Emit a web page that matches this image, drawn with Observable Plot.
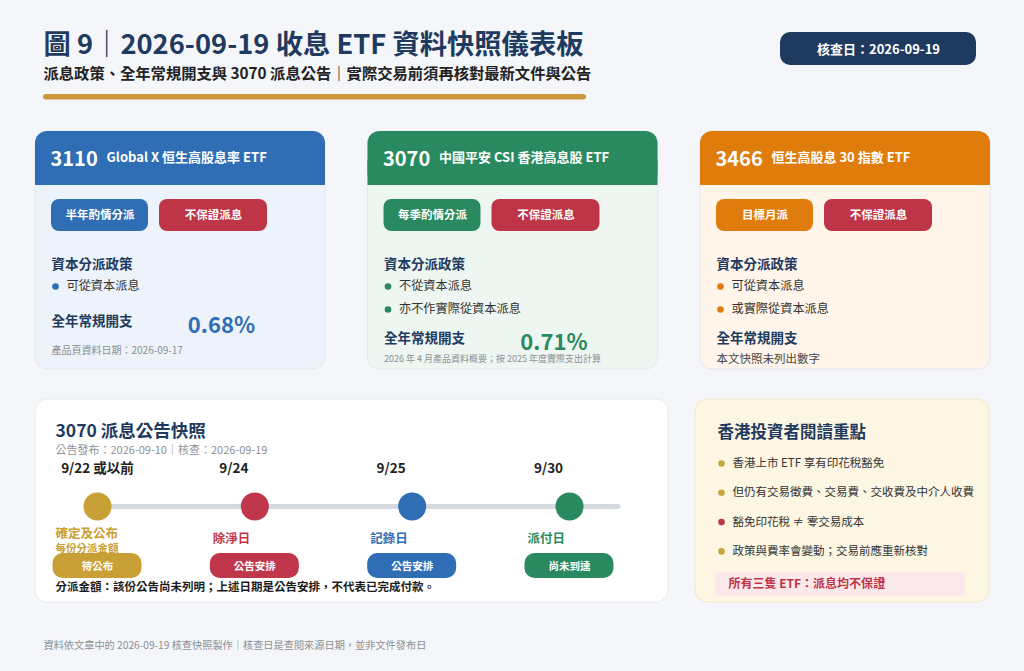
<!DOCTYPE html>
<html><head><meta charset="utf-8">
<script src="https://cdn.jsdelivr.net/npm/d3@7"></script>
<script src="https://cdn.jsdelivr.net/npm/@observablehq/plot@0.6"></script>
<style>
html,body{margin:0;padding:0;background:#f4f6f9;}
#chart svg{display:block;}
g[aria-label="card-shadow"] rect{filter:drop-shadow(0 3px 5px rgba(40,60,90,0.14));}
</style></head><body><div id="chart"></div>
<script>
// ---------- DATA ----------
const titleText = "圖 9｜2026-09-19 收息 ETF 資料快照儀表板";
const subtitleText = "派息政策、全年常規開支與 3070 派息公告｜實際交易前須再核對最新文件與公告";
const checkLabel = "核查日：2026-09-19";
const footerText = "資料依文章中的 2026-09-19 核查快照製作｜核查日是查閱來源日期，並非文件發布日";

const fundCodes = ["3110", "3070", "3466"];
const fundNames = ["Global X 恒生高股息率 ETF", "中國平安 CSI 香港高息股 ETF", "恒生高股息 30 指數 ETF"];
const payoutTags = ["半年酌情分派", "每季酌情分派", "目標月派"];
const guaranteeTags = ["不保證派息", "不保證派息", "不保證派息"];
const policyHeading = "資本分派政策";
const capitalPolicies = [["可從資本派息"], ["不從資本派息", "亦不作實際從資本派息"], ["可從資本派息", "或實際從資本派息"]];
const expenseHeading = "全年常規開支";
const expenseRatios = [0.68, 0.71, null];
const expenseNotes = ["產品頁資料日期：2026-09-17", "2026 年 4 月產品資料概要；按 2025 年度實際支出計算", "本文快照未列出數字"];

const timelineTitle = "3070 派息公告快照";
const timelineSub = "公告發布：2026-09-10｜核查：2026-09-19";
const timelineDates = ["9/22 或以前", "9/24", "9/25", "9/30"];
const timelineEvents = [["確定及公布", "每份分派金額"], ["除淨日"], ["記錄日"], ["派付日"]];
const timelineStatus = ["待公布", "公告安排", "公告安排", "尚未到達"];
const timelineNote = "分派金額：該份公告尚未列明；上述日期是公告安排，不代表已完成付款。";

const notesTitle = "香港投資者閱讀重點";
const notesItems = ["香港上市 ETF 享有印花稅豁免", "但仍有交易徵費、交易費、交收費及中介人收費", "豁免印花稅 ≠ 零交易成本", "政策與費率會變動；交易前應重新核對"];
const notesWarn = [false, false, true, false];
const notesBanner = "所有三隻 ETF：派息均不保證";

// ---------- STYLE ----------
const W = 1024, H = 671;
const FONT = '"Noto Sans CJK TC","Noto Sans CJK SC","Noto Sans",sans-serif';
const NAVY = "#1f3a5f", GOLD = "#c99b3e", RED = "#bf3548", INK = "#1c1c1c", GRAY = "#8c9096";
const fundHead = ["#2f6db4", "#2a8a5f", "#e07c0c"];
const fundBody = ["#edf3fa", "#edf6f1", "#fff5ea"];
const stepColor = ["#c9a035", "#c0364a", "#2f6db4", "#2a8a5f"];
const noteDot = "#c8a640";

// ---------- LAYOUT ----------
const cardX = d3.scaleBand().domain(d3.range(fundCodes.length)).range([35, 990]).paddingInner(42.5 / 332.5);
const cw = cardX.bandwidth();
const stepX = d3.scalePoint().domain(d3.range(timelineDates.length)).range([97, 569]);
const lineY = 506;

const R = (data, o) => Plot.rect(data, {x1: "x1", x2: "x2", y1: "y1", y2: "y2", ...o});
const T = (data, o) => Plot.text(data, {x: "x", y: "y", text: "t", lineAnchor: "middle", fontFamily: FONT, ...o});

const cards = fundCodes.map((code, i) => {
  const x = cardX(i), n = capitalPolicies[i].length;
  const ey = 321 + 17 * (n - 1);
  return {i, code, x, n, ey, x1: x, x2: x + cw, y1: 131, y2: 369};
});

const marks = [];
// header area
marks.push(T([{x: 43, y: 45, t: titleText}], {fontSize: 27.3, fontWeight: 700, fill: NAVY, textAnchor: "start"}));
marks.push(T([{x: 43, y: 74, t: subtitleText}], {fontSize: 15.3, fontWeight: 700, fill: "#222", textAnchor: "start"}));
marks.push(R([{x1: 43, x2: 586, y1: 94, y2: 99.5}], {fill: GOLD, rx: 2.7}));
marks.push(R([{x1: 780, x2: 976, y1: 32, y2: 65}], {fill: NAVY, rx: 10}));
marks.push(T([{x: 878, y: 49, t: checkLabel}], {fontSize: 13, fontWeight: 700, fill: "white", textAnchor: "middle"}));

// fund cards
marks.push(R(cards, {fill: d => fundBody[d.i], stroke: "#dfe5ec", strokeWidth: 0.8, rx: 12, ariaLabel: "card-shadow"}));
marks.push(R(cards.map(c => ({...c, y2: 185})), {fill: d => fundHead[d.i], rx: 12}));
marks.push(R(cards.map(c => ({...c, y1: 160, y2: 185})), {fill: d => fundHead[d.i]}));
marks.push(T(cards.map(c => ({x: c.x + 15, y: 159.5, t: c.code})), {fontSize: 20, fontWeight: 700, fill: "white", textAnchor: "start"}));
marks.push(T(cards.map(c => ({x: c.x + 71, y: 157, t: fundNames[c.i]})), {fontSize: 13, fontWeight: 700, fill: "white", textAnchor: "start"}));

const pills = cards.flatMap(c => [
  {x1: c.x + 16, x2: c.x + 113, y1: 199, y2: 231, t: payoutTags[c.i], f: fundHead[c.i]},
  {x1: c.x + 124, x2: c.x + 232, y1: 199, y2: 231, t: guaranteeTags[c.i], f: RED}
]);
marks.push(R(pills, {fill: "f", rx: 8}));
marks.push(T(pills.map(p => ({x: (p.x1 + p.x2) / 2, y: 215, t: p.t})), {fontSize: 11.5, fontWeight: 700, fill: "white", textAnchor: "middle"}));

marks.push(T(cards.map(c => ({x: c.x + 16, y: 264, t: policyHeading})), {fontSize: 13.5, fontWeight: 700, fill: NAVY, textAnchor: "start"}));
const bullets = cards.flatMap(c => capitalPolicies[c.i].map((t, j) => ({x: c.x + 20, tx: c.x + 31, y: 286 + 23 * j, t, f: fundHead[c.i]})));
marks.push(Plot.dot(bullets, {x: "x", y: "y", r: 3.3, fill: "f"}));
marks.push(T(bullets.map(b => ({...b, x: b.tx})), {fontSize: 12.2, fill: "#333", textAnchor: "start"}));

marks.push(T(cards.map(c => ({x: c.x + 16, y: c.ey, t: expenseHeading})), {fontSize: 13.5, fontWeight: 700, fill: NAVY, textAnchor: "start"}));
const values = cards.filter(c => expenseRatios[c.i] != null).map(c => ({x: c.x + 186, y: c.ey + 4, t: d3.format(".2f")(expenseRatios[c.i]) + "%", f: fundHead[c.i]}));
marks.push(T(values, {fontSize: 22, fontWeight: 700, fill: "f", textAnchor: "middle"}));
const foot = cards.map(c => ({x: c.x + 16, y: c.ey + 29 - 8 * (c.n - 1), t: expenseNotes[c.i], i: c.i}));
marks.push(T(foot.filter(d => expenseRatios[d.i] != null), {fontSize: d => d.i === 0 ? 10 : 9, fill: GRAY, textAnchor: "start"}));
marks.push(T(foot.filter(d => expenseRatios[d.i] == null), {fontSize: 11.5, fill: "#444", textAnchor: "start"}));

// timeline card
marks.push(R([{x1: 35, x2: 668, y1: 399, y2: 602}], {fill: "white", stroke: "#e1e5ea", strokeWidth: 0.8, rx: 12, ariaLabel: "card-shadow"}));
marks.push(T([{x: 55, y: 431, t: timelineTitle}], {fontSize: 17.5, fontWeight: 700, fill: NAVY, textAnchor: "start"}));
marks.push(T([{x: 55, y: 450, t: timelineSub}], {fontSize: 11, fill: GRAY, textAnchor: "start"}));
const steps = timelineDates.map((d, i) => ({i, x: stepX(i), y: lineY, t: d}));
marks.push(T(steps.map(s => ({...s, x: s.x - (s.i > 0 ? 21 : 0), y: 468})), {fontSize: 13.5, fontWeight: 700, fill: "#222", textAnchor: "middle"}));
marks.push(Plot.ruleY([lineY], {x1: stepX(0), x2: stepX(timelineDates.length - 1) + 49, stroke: "#d3d9df", strokeWidth: 5, strokeLinecap: "round"}));
marks.push(Plot.dot(steps, {x: "x", y: "y", r: 14, fill: d => stepColor[d.i]}));
const evLabels = steps.flatMap(s => {
  const lines = timelineEvents[s.i];
  return lines.map((t, j) => ({x: s.x - 42, y: (lines.length > 1 ? 533 : 538) + 15 * j, t, f: stepColor[s.i], j}));
});
marks.push(T(evLabels, {fontSize: d => d.j ? 10.5 : 12.5, fontWeight: 700, fill: "f", textAnchor: "start"}));
marks.push(R(steps.map(s => ({x1: s.x - 44.5, x2: s.x + 44.5, y1: 553, y2: 578, f: stepColor[s.i]})), {fill: "f", rx: 10}));
marks.push(T(steps.map(s => ({x: s.x, y: 566, t: timelineStatus[s.i]})), {fontSize: 10.5, fontWeight: 700, fill: "white", textAnchor: "middle"}));
marks.push(T([{x: 55, y: 587, t: timelineNote}], {fontSize: 11.5, fontWeight: 700, fill: INK, textAnchor: "start"}));

// notes card
marks.push(R([{x1: 695, x2: 989, y1: 399, y2: 602}], {fill: "#fdf6e3", stroke: "#efe3c3", strokeWidth: 0.8, rx: 12, ariaLabel: "card-shadow"}));
marks.push(T([{x: 717, y: 432, t: notesTitle}], {fontSize: 16.5, fontWeight: 700, fill: NAVY, textAnchor: "start"}));
const noteRows = notesItems.map((t, i) => ({x: 721, tx: 732, y: 463 + 29.3 * i, t, f: notesWarn[i] ? RED : noteDot}));
marks.push(Plot.dot(noteRows, {x: "x", y: "y", r: 3.3, fill: "f"}));
marks.push(T(noteRows.map(r => ({...r, x: r.tx})), {fontSize: 11.5, fill: "#333", textAnchor: "start"}));
marks.push(R([{x1: 715, x2: 965, y1: 572, y2: 596}], {fill: "#fbe8ea", rx: 3}));
marks.push(T([{x: 728, y: 584, t: notesBanner}], {fontSize: 12, fontWeight: 700, fill: RED, textAnchor: "start"}));

// footer
marks.push(T([{x: 43, y: 645, t: footerText}], {fontSize: 10.2, fill: GRAY, textAnchor: "start"}));

const chart = Plot.plot({
  width: W, height: H, margin: 0,
  x: {domain: [0, W], range: [0, W], axis: null},
  y: {domain: [0, H], range: [0, H], axis: null},
  color: {type: "identity"},
  style: {background: "#f4f6f9", fontFamily: FONT, overflow: "visible"},
  marks
});
document.getElementById("chart").appendChild(chart);
</script></body></html>
